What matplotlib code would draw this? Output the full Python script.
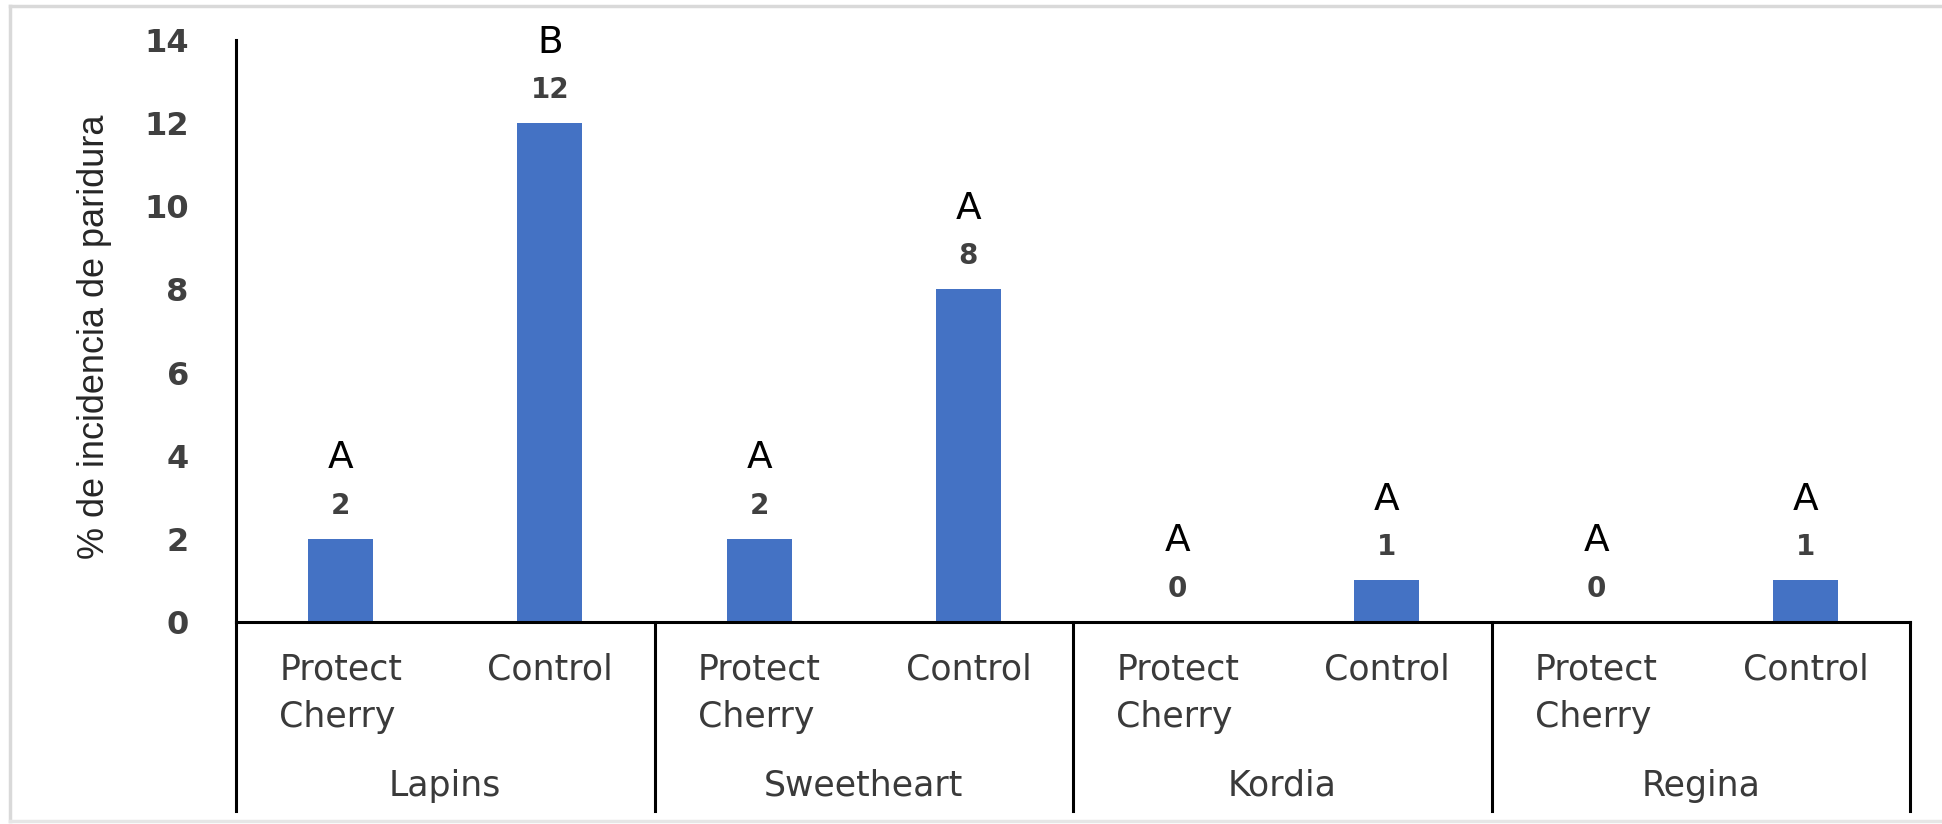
import matplotlib
matplotlib.use("Agg")
import matplotlib.pyplot as plt
from matplotlib.lines import Line2D

# ---- data ----
varieties = ["Lapins", "Sweetheart", "Kordia", "Regina"]
treatments = ["Protect\nCherry", "Control"]
values = [2, 12, 2, 8, 0, 1, 0, 1]
letters = ["A", "B", "A", "A", "A", "A", "A", "A"]
yticks = [0, 2, 4, 6, 8, 10, 12, 14]
ylabel = "% de incidencia de paridura"

W, H = 1942, 824
fig = plt.figure(figsize=(W / 100, H / 100), dpi=100)
fig.patch.set_facecolor("white")

ax_left, ax_right = 236, 1910
ax_top, ax_bottom = 40, 622
ax = fig.add_axes([ax_left / W, 1 - ax_bottom / H,
                   (ax_right - ax_left) / W, (ax_bottom - ax_top) / H])

n = len(values)
x = list(range(n))
bar_color = "#4472C4"
ax.bar(x, values, width=0.31, color=bar_color, zorder=2)

ax.set_xlim(-0.5, n - 0.5)
ax.set_ylim(0, 14)
ax.set_yticks(yticks)
ax.set_yticklabels([str(t) for t in yticks], fontsize=23, fontweight="bold",
                   color="#404040", family="DejaVu Sans")
ax.tick_params(axis="y", length=0, pad=34)
ax.set_xticks([])

for s in ["top", "right"]:
    ax.spines[s].set_visible(False)
ax.spines["left"].set_linewidth(2.2)
ax.spines["left"].set_color("black")
ax.spines["bottom"].set_linewidth(2.2)
ax.spines["bottom"].set_color("black")

ax.set_ylabel(ylabel, fontsize=26, family=["Liberation Sans Narrow", "Liberation Sans"],
              color="#262626", va="center")
ax.yaxis.set_label_coords((95 - ax_left) / (ax_right - ax_left), 0.49)

# value labels and significance letters
for xi, v, let in zip(x, values, letters):
    ax.annotate(str(v), (xi, v), xytext=(0, 24), textcoords="offset points",
                ha="center", va="center", fontsize=20, fontweight="bold",
                color="#404040", family="DejaVu Sans")
    ax.annotate(let, (xi, v), xytext=(0, 58), textcoords="offset points",
                ha="center", va="center", fontsize=27, color="black",
                family="DejaVu Sans")

# multi-level category axis
ah = ax_bottom - ax_top
trans = ax.get_xaxis_transform()
for i, xi in enumerate(x):
    lab = treatments[i % 2]
    if "\n" in lab:
        ax.text(xi, -71 / ah, lab, transform=trans, ha="center", va="center",
                multialignment="left", fontsize=25, color="#3a3a3a",
                family="DejaVu Sans", linespacing=1.5)
    else:
        ax.text(xi, -47 / ah, lab, transform=trans, ha="center", va="center",
                fontsize=25, color="#3a3a3a", family="DejaVu Sans")

for g, name in enumerate(varieties):
    cx = 2 * g + 0.5
    ax.text(cx, -164 / ah, name, transform=trans, ha="center", va="center",
            fontsize=25, color="#3a3a3a", family="DejaVu Sans")

for g in range(len(varieties) + 1):
    sx = 2 * g - 0.5
    ax.add_line(Line2D([sx, sx], [0, -189 / ah], transform=trans,
                       color="black", lw=2.2, clip_on=False))

# chart area border (light grey)
fig.add_artist(Line2D([10 / W, 10 / W], [1 - 6 / H, 1 - 821 / H],
                      transform=fig.transFigure, color="#d9d9d9", lw=2.5))
fig.add_artist(Line2D([10 / W, 1.0], [1 - 6 / H, 1 - 6 / H],
                      transform=fig.transFigure, color="#d9d9d9", lw=2.5))
fig.add_artist(Line2D([10 / W, 1.0], [1 - 821 / H, 1 - 821 / H],
                      transform=fig.transFigure, color="#e6e6e6", lw=2.5))

fig.savefig("out.png", dpi=100, facecolor="white")
